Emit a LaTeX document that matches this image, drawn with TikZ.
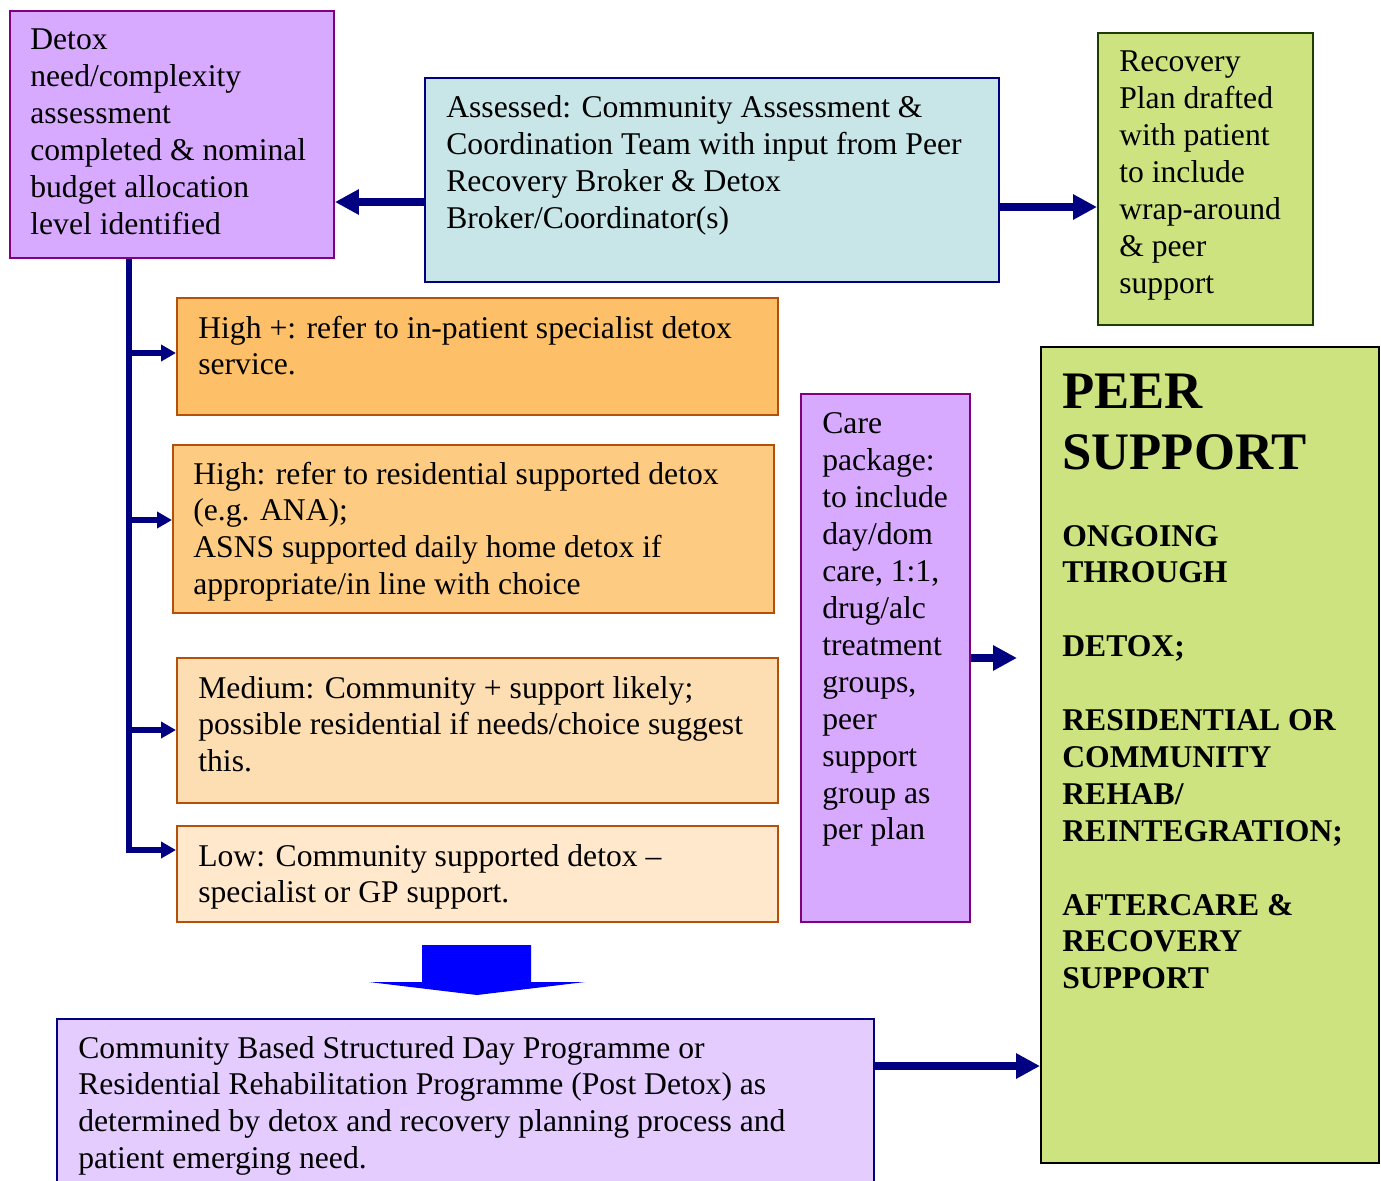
\documentclass[tikz,border=0pt]{standalone}
\usepackage{fontspec}
\setmainfont{Liberation Serif}
\usetikzlibrary{positioning, arrows.meta}

\definecolor{detoxfill}{RGB}{215,170,255}
\definecolor{purpleline}{RGB}{128,0,128}
\definecolor{assessfill}{RGB}{200,230,232}
\definecolor{navyline}{RGB}{0,0,128}
\definecolor{greenfill}{RGB}{204,227,128}
\definecolor{recovline}{RGB}{30,60,0}
\definecolor{highpfill}{RGB}{253,192,104}
\definecolor{highfill}{RGB}{253,204,130}
\definecolor{medfill}{RGB}{253,222,178}
\definecolor{lowfill}{RGB}{255,232,203}
\definecolor{orangeline}{RGB}{180,80,10}
\definecolor{commfill}{RGB}{228,204,255}
\definecolor{blockblue}{RGB}{0,0,255}

\begin{document}
\begin{tikzpicture}[
    box/.style={line width=1.1pt, anchor=north west, inner sep=0pt},
    % texts hang on the baseline of their last line
    txt/.style={anchor=base west, align=left, inner sep=0pt, font=\fontsize{18pt}{21pt}\selectfont},
    bigarrow/.style={draw=navyline, line width=4.5pt, -{Triangle[length=0.48cm,width=0.48cm]}},
    branch/.style={draw=navyline, line width=3pt, -{Triangle[length=0.3cm,width=0.32cm]}}
]
        \useasboundingbox (0,0) rectangle (27.62,-23.6);
        % top row boxes
        \node[box, fill=detoxfill, draw=purpleline, minimum width=6.48cm, minimum height=4.94cm] (detox) at (0.18,-0.2) {};
        \node[box, fill=assessfill, draw=navyline, minimum width=11.48cm, minimum height=4.08cm] (assess) at (8.48,-1.54) {};
        \node[box, fill=greenfill, draw=recovline, minimum width=4.3cm, minimum height=5.84cm] (recov) at (21.94,-0.64) {};
        % detox levels
        \node[box, fill=highpfill, draw=orangeline, minimum width=12.02cm, minimum height=2.34cm] (highp) at (3.52,-5.94) {};
        \node[box, fill=highfill, draw=orangeline, minimum width=12.02cm, minimum height=3.36cm] (high) at (3.44,-8.88) {};
        \node[box, fill=medfill, draw=orangeline, minimum width=12.02cm, minimum height=2.9cm] (medium) at (3.52,-13.14) {};
        \node[box, fill=lowfill, draw=orangeline, minimum width=12.02cm, minimum height=1.92cm] (low) at (3.52,-16.5) {};
        % care package and peer support
        \node[box, fill=detoxfill, draw=purpleline, minimum width=3.38cm, minimum height=10.56cm] (care) at (16,-7.86) {};
        \node[box, fill=greenfill, draw=black, minimum width=6.76cm, minimum height=16.32cm] (peer) at (20.8,-6.92) {};
        % programme box, runs off the bottom
        \node[box, fill=commfill, draw=navyline, minimum width=16.34cm, minimum height=3.6cm] (comm) at (1.12,-20.36) {};

        % texts
        \node[txt] (detoxtxt) at ([shift={(0.42,-4.49)}]detox.north west) {Detox\\need/complexity\\assessment\\completed \& nominal\\budget allocation\\level identified};
        \node[txt] (assesstxt) at ([shift={(0.44,-3.034)}]assess.north west) {Assessed: Community Assessment \&\\Coordination Team with input from Peer\\Recovery Broker \& Detox\\Broker/Coordinator(s)};
        \node[txt] (recovtxt) at ([shift={(0.44,-5.228)}]recov.north west) {Recovery\\Plan drafted\\with patient\\to include\\wrap-around\\\& peer\\support};
        \node[txt] (highptxt) at ([shift={(0.44,-1.558)}]highp.north west) {High +: refer to in-patient specialist detox\\service.};
        \node[txt] (hightxt) at ([shift={(0.42,-3.014)}]high.north west) {High: refer to residential supported detox\\(e.g. ANA);\\ASNS supported daily home detox if\\appropriate/in line with choice};
        \node[txt] (mediumtxt) at ([shift={(0.44,-2.296)}]medium.north west) {Medium: Community + support likely;\\possible residential if needs/choice suggest\\this.};
        \node[txt] (lowtxt) at ([shift={(0.44,-1.558)}]low.north west) {Low: Community supported detox –\\specialist or GP support.};
        \node[txt] (caretxt) at ([shift={(0.44,-8.938)}]care.north west) {Care\\package:\\to include\\day/dom\\care, 1:1,\\drug/alc\\treatment\\groups,\\peer\\support\\group as\\per plan};
        \node[txt, font=\fontsize{30pt}{35pt}\selectfont\bfseries] (peerhead) at ([shift={(0.44,-2.47)}]peer.north west) {PEER\\SUPPORT};
        \node[txt, font=\fontsize{18pt}{21pt}\selectfont\bfseries] (peertxt) at ([shift={(0.44,-12.857)}]peer.north west) {ONGOING\\THROUGH\\[21pt]DETOX;\\[21pt]RESIDENTIAL OR\\COMMUNITY\\REHAB/\\REINTEGRATION;\\[21pt]AFTERCARE \&\\RECOVERY\\SUPPORT};
        \node[txt] (commtxt) at ([shift={(0.44,-3.014)}]comm.north west) {Community Based Structured Day Programme or\\Residential Rehabilitation Programme (Post Detox) as\\determined by detox and recovery planning process and\\patient emerging need.};

        % arrows out of the assessment
        \coordinate (aleft) at ([yshift=-2.5cm]assess.north west);
        \coordinate (aright) at ([yshift=-2.6cm]assess.north east);
        \draw[bigarrow] (aleft) -- (aleft -| detox.east);
        \draw[bigarrow] (aright) -- (aright -| recov.west);
        % tree of detox levels
        \coordinate (trunk) at ([xshift=2.4cm]detox.south west);
        \draw[branch] (trunk) |- ([yshift=-0.5cm]low.north west);
        \foreach \lvl/\dy in {highp/1.12, high/1.52, medium/1.46}
        \draw[branch] ([yshift=-\dy cm]\lvl.north west -| trunk) -- ([yshift=-\dy cm]\lvl.north west);
        % into peer support
        \draw[bigarrow] (care.east) -- ([xshift=-0.46cm]care.east -| peer.west);
        \coordinate (cright) at ([yshift=-0.96cm]comm.north east);
        \draw[bigarrow] (cright) -- (cright -| peer.west);
        % block arrow down
        \fill[blockblue] (8.44,-18.9) -- (10.62,-18.9) -- (10.62,-19.64) -- (11.7,-19.64) -- (9.54,-19.9)
              -- (7.38,-19.64) -- (8.44,-19.64) -- cycle;
\end{tikzpicture}
\end{document}
